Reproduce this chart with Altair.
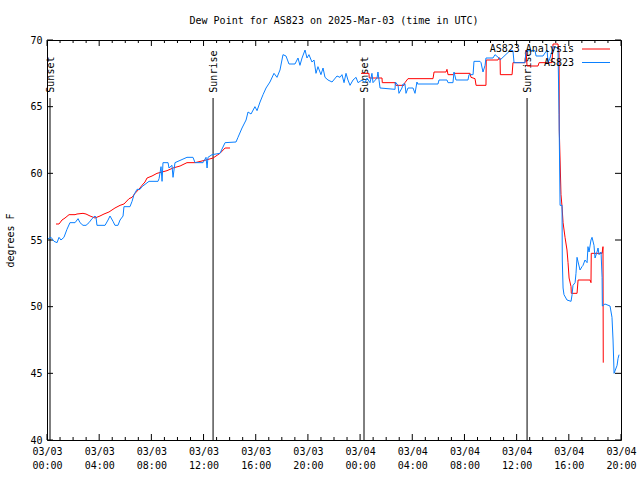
import altair as alt
import pandas as pd

# ---- data (hours since 2025-03-03 00:00 UTC, dew point in deg F) ----
obs_hours = [0.08, 0.31, 0.54, 0.77, 0.92, 1.07, 1.30, 1.53, 1.76, 2.15, 2.38, 2.53, 2.76, 2.99, 3.22, 3.45,
             3.68, 3.76, 3.83, 4.45, 4.68, 4.83, 5.06, 5.21, 5.44, 5.60, 5.83, 5.90, 6.36, 6.52, 6.67, 6.90,
             7.13, 7.28, 7.82, 8.51, 8.59, 8.74, 8.82, 8.89, 9.28, 9.35, 9.58, 9.66, 9.81, 10.73, 11.19, 11.35,
             11.96, 12.19, 12.27, 12.34, 12.65, 13.26, 13.65, 14.49, 14.64, 14.95, 15.26, 15.41, 15.64, 15.94,
             16.10, 16.33, 16.56, 16.79, 17.09, 17.40, 17.63, 17.86, 18.09, 18.32, 18.55, 19.01, 19.24, 19.39,
             19.55, 19.78, 19.93, 20.08, 20.31, 20.47, 20.62, 20.77, 21.00, 21.16, 21.31, 21.54, 21.85, 22.23,
             22.46, 22.61, 22.77, 22.92, 23.07, 23.23, 23.46, 23.69, 23.84, 24.15, 24.38, 24.53, 24.76, 24.91,
             24.99, 25.30, 25.37, 25.53, 26.68, 26.70, 26.91, 26.98, 27.21, 27.29, 27.44, 27.52, 27.67, 28.06,
             28.21, 28.36, 28.40, 29.97, 30.05, 30.66, 30.74, 31.12, 31.20, 31.35, 32.27, 32.35, 32.66, 32.73,
             33.19, 33.27, 33.42, 33.58, 33.65, 34.19, 34.34, 34.65, 34.73, 35.49, 35.72, 35.80, 36.64, 36.72,
             37.41, 37.49, 38.02, 38.33, 38.41, 38.56, 38.79, 39.17, 39.25, 39.33, 39.48, 39.50, 39.56, 39.63,
             39.86, 40.17, 40.25, 40.32, 40.48, 40.55, 40.63, 40.71, 40.86, 41.01, 41.09, 41.24, 41.40, 41.47,
             41.55, 41.70, 41.78, 41.93, 42.01, 42.16, 42.24, 42.32, 42.47, 42.55, 42.57, 42.77, 43.16, 43.31,
             43.39, 43.47, 43.70, 43.77, 43.85]
obs_values = [55.1, 55.2, 54.9, 54.8, 55.2, 55.0, 55.2, 55.8, 56.3, 56.3, 56.6, 56.3, 56.1, 56.1, 56.3, 56.6,
              56.8, 56.7, 56.1, 56.1, 56.5, 56.8, 56.4, 56.1, 56.1, 56.5, 56.8, 57.5, 57.5, 57.9, 58.4, 58.8,
              58.8, 59.0, 59.4, 59.4, 59.6, 60.5, 59.4, 60.8, 60.8, 60.4, 60.6, 59.7, 60.8, 61.2, 61.2, 60.8,
              60.8, 61.2, 60.4, 61.2, 61.4, 61.5, 62.3, 62.35, 62.7, 63.4, 64.0, 64.6, 64.45, 65.0,
              64.7, 65.35, 65.9, 66.4, 66.85, 67.5, 67.2, 67.75, 68.9, 68.8, 68.2, 68.2, 68.65, 68.1,
              68.65, 69.25, 68.65, 68.9, 68.35, 68.5, 67.5, 68.0, 67.4, 67.9, 67.2, 67.0, 66.85, 67.3,
              67.2, 67.4, 66.8, 67.5, 67.0, 66.6, 67.0, 67.2, 66.8, 67.0, 66.8, 67.15, 66.8, 67.5,
              66.8, 67.15, 67.6, 66.4, 66.3, 66.85, 66.6, 66.0, 66.4, 66.7, 66.7, 66.0, 66.4, 66.4,
              66.0, 66.85, 66.7, 66.7, 67.0, 67.0, 66.8, 66.8, 67.6, 67.0, 67.0, 67.4, 67.4, 68.4,
              68.4, 68.3, 67.6, 68.1, 68.65, 68.65, 68.9, 68.65, 68.5, 69.2, 69.2, 68.3, 68.3, 69.2,
              69.2, 68.8, 68.8, 69.25, 68.3, 68.65, 69.5, 69.4, 64.4, 57.6, 57.6, 53.5, 51.4, 50.9,
              50.5, 50.4, 50.9, 51.6, 51.8, 52.5, 53.7, 53.35, 52.75, 53.0, 53.1, 53.5, 53.3, 54.5,
              54.1, 55.0, 55.2, 54.6, 53.65, 54.1, 54.4, 53.9, 54.1, 52.2, 50.05, 50.2, 50.05, 49.2,
              47.5, 45.0, 45.6, 46.1, 46.4]

ana1_hours = [0.69, 0.92, 1.15, 1.38, 1.69, 2.15, 2.30, 2.76, 2.99, 3.30, 3.68, 4.06, 4.37, 4.75, 4.98, 5.21,
              5.60, 5.90, 6.29, 6.52, 6.75, 7.13, 7.28, 7.51, 7.67, 8.05, 8.43, 8.82, 9.20, 9.66, 10.20, 10.73,
              11.35, 12.19, 12.73, 13.26, 13.65, 14.03]
ana1_values = [56.2, 56.2, 56.5, 56.65, 56.9, 56.9, 56.95, 57.0, 56.95, 56.8, 56.65, 56.8, 56.95, 57.1, 57.25, 57.4,
               57.6, 57.7, 58.1, 58.2, 58.5, 58.9, 59.1, 59.35, 59.65, 59.8, 60.0, 60.1, 60.2, 60.4, 60.55, 60.8,
               60.8, 61.0, 61.15, 61.5, 61.9, 61.9]

ana2_hours = [24.07, 24.68, 24.70, 25.68, 25.70, 26.68, 26.75, 27.37, 27.44, 27.67, 29.59, 29.67, 30.59, 30.66,
              30.74, 31.12, 31.20, 32.43, 32.50, 32.81, 32.89, 33.65, 33.67, 34.57, 34.65, 34.73, 34.75, 35.65,
              35.72, 36.64, 36.72, 36.80, 37.64, 37.72, 38.71, 38.79, 39.17, 39.25, 39.27, 39.40, 39.48, 39.56,
              39.71, 39.86, 39.94, 40.02, 40.17, 40.19, 40.63, 40.71, 41.63, 41.70, 41.72, 42.55, 42.62, 42.64]
ana2_values = [67.5, 67.5, 67.15, 67.15, 66.8, 66.8, 66.6, 66.6, 66.8, 67.1, 67.1, 67.6, 67.6, 67.8,
               67.4, 67.4, 67.5, 67.5, 67.2, 67.1, 66.6, 66.6, 68.5, 68.5, 68.65, 68.65, 67.4, 67.4,
               68.3, 68.3, 69.25, 68.05, 68.05, 68.3, 68.3, 69.7, 69.7, 69.0, 63.25, 58.4, 57.5, 56.3,
               55.2, 54.25, 53.3, 52.15, 51.5, 51.0, 51.0, 52.0, 52.0, 51.8, 54.0, 54.0, 54.5, 45.8]

sun_hours = [0.23, 12.73, 24.30, 36.80]
sun_labels = ["Sunset", "Sunrise", "Sunset", "Sunrise"]

x_major = list(range(0, 45, 4))
x_minor = [h for h in range(0, 45) if h % 4 != 0]
y_major = [40, 45, 50, 55, 60, 65, 70]

series_names = ["AS823 Analysis", "AS823"]
series_colors = ["#ff0000", "#0a80ff"]

FONT = "DejaVu Sans Mono"
W, H = 574, 400

# ---- tables ----
obs_df = pd.DataFrame({"h": obs_hours, "v": obs_values})
ana_df = pd.DataFrame({
    "h": ana1_hours + ana2_hours,
    "v": ana1_values + ana2_values,
    "seg": [1] * len(ana1_hours) + [2] * len(ana2_hours),
})
sun_df = pd.DataFrame({"h": sun_hours, "label": sun_labels})
xmaj_df = pd.DataFrame({"h": x_major})
xmin_df = pd.DataFrame({"h": x_minor})
ymaj_df = pd.DataFrame({"v": y_major})

label_expr = ("[datum.value < 24 ? '03/03' : '03/04', "
              "((datum.value % 24) < 10 ? '0' : '') + (datum.value % 24) + ':00']")

xscale = alt.Scale(domain=[0, 44], nice=False, zero=False)
yscale = alt.Scale(domain=[40, 70], nice=False, zero=False)
xaxis = alt.Axis(values=x_major, labelExpr=label_expr, tickSize=0, domain=False, grid=False,
                 labelFont=FONT, labelFontSize=10, labelColor="black", labelPadding=6,
                 labelLineHeight=14, labelBaseline="top", title=None, labelFlush=False,
                 labelOverlap=False)
yaxis = alt.Axis(values=y_major, tickSize=0, domain=False, grid=False,
                 labelFont=FONT, labelFontSize=10, labelColor="black", labelPadding=5,
                 title="degrees F", titleFont=FONT, titleFontSize=10, titleFontWeight="normal",
                 titleColor="black", titleAngle=270, titleX=-37, titleY=200,
                 titleAlign="center", titleBaseline="middle")


def X(field):
    return alt.X(field, type="quantitative", scale=xscale, axis=xaxis)


def Y(field):
    return alt.Y(field, type="quantitative", scale=yscale, axis=yaxis)


ana_line = alt.Chart(ana_df).mark_line(color=series_colors[0], strokeWidth=1, interpolate="linear").encode(
    x=X("h"), y=Y("v"), detail="seg:N", order="h:Q")
obs_line = alt.Chart(obs_df).mark_line(color=series_colors[1], strokeWidth=1, interpolate="linear").encode(
    x=X("h"), y=Y("v"), order="h:Q")

sun_rule = alt.Chart(sun_df).mark_rule(color="black", strokeWidth=1).encode(
    x=X("h"), y=alt.datum(65.65), y2=alt.datum(40))
sun_text = alt.Chart(sun_df).mark_text(angle=270, align="left", baseline="middle", font=FONT,
                                       fontSize=10, color="black", dy=1).encode(
    x=X("h"), y=alt.datum(66.05), text="label:N")

tick_b_major = alt.Chart(xmaj_df).mark_rule(color="black").encode(
    x=X("h"), y=alt.value(H), y2=alt.value(H - 6))
tick_t_major = alt.Chart(xmaj_df).mark_rule(color="black").encode(
    x=X("h"), y=alt.value(0), y2=alt.value(6))
tick_b_minor = alt.Chart(xmin_df).mark_rule(color="black").encode(
    x=X("h"), y=alt.value(H), y2=alt.value(H - 3))
tick_t_minor = alt.Chart(xmin_df).mark_rule(color="black").encode(
    x=X("h"), y=alt.value(0), y2=alt.value(3))
tick_l = alt.Chart(ymaj_df).mark_rule(color="black").encode(
    y=Y("v"), x=alt.value(0), x2=alt.value(6))
tick_r = alt.Chart(ymaj_df).mark_rule(color="black").encode(
    y=Y("v"), x=alt.value(W), x2=alt.value(W - 6))

# legend (gnuplot style: label left, line sample right)
leg_layers = []
for i, (name, col) in enumerate(zip(series_names, series_colors)):
    yy = 9 + i * 13.5
    leg_layers.append(alt.Chart(pd.DataFrame({"t": [name]})).mark_text(
        align="right", baseline="middle", font=FONT, fontSize=10, color="black").encode(
        text="t:N", x=alt.value(527), y=alt.value(yy)))
    leg_layers.append(alt.Chart(pd.DataFrame({"t": [name]})).mark_rule(color=col, strokeWidth=1).encode(
        x=alt.value(535), x2=alt.value(563), y=alt.value(yy)))

chart = alt.layer(
    tick_b_major, tick_t_major, tick_b_minor, tick_t_minor, tick_l, tick_r,
    sun_rule, sun_text, ana_line, obs_line, *leg_layers
).properties(
    width=W, height=H,
    title=alt.TitleParams("Dew Point for AS823 on 2025-Mar-03 (time in UTC)", font=FONT, fontSize=10,
                          fontWeight="normal", color="black", anchor="middle", baseline="bottom",
                          offset=15, dy=16),
    autosize=alt.AutoSizeParams(type="none"),
    padding={"left": 47, "top": 40, "right": 19, "bottom": 40},
    background="white",
).configure_view(stroke="black", strokeWidth=1)

chart.save("out.html", embed_options={"renderer": "svg", "actions": False})
